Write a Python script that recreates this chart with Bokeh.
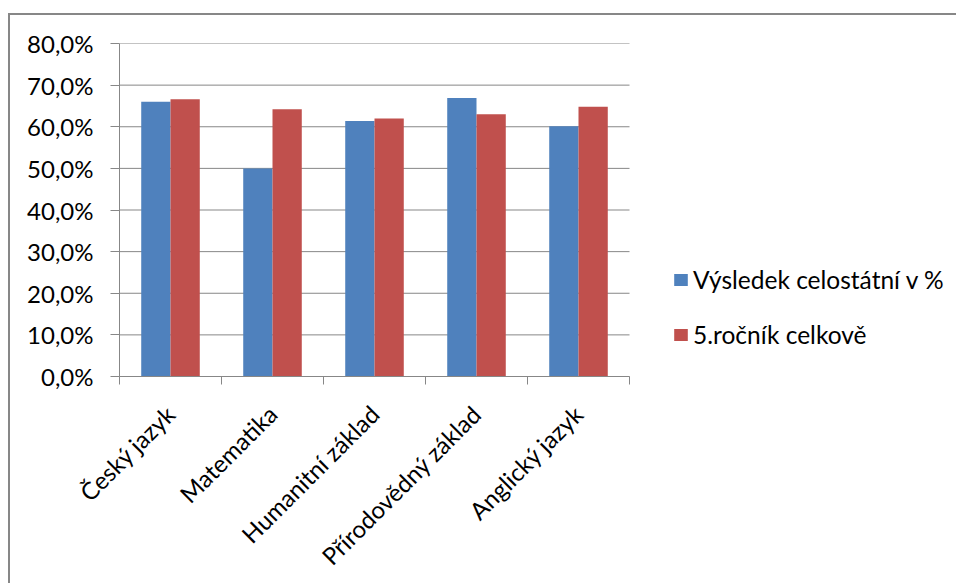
import math
from bokeh.plotting import figure
from bokeh.models import (Range1d, FixedTicker, LinearAxis, Legend, LegendItem,
                          ColumnDataSource)
from bokeh.embed import file_html
from bokeh.resources import INLINE

# ---- data ----
categories = ["Český jazyk", "Matematika", "Humanitní základ", "Přírodovědný základ", "Anglický jazyk"]
celostatni = [66.0, 50.0, 61.4, 66.9, 60.1]
rocnik5 = [66.6, 64.2, 62.0, 63.0, 64.8]
series_names = ["Výsledek celostátní v %", "5.ročník celkově"]
y_ticks = [0, 10, 20, 30, 40, 50, 60, 70, 80]
y_tick_labels = ["0,0%", "10,0%", "20,0%", "30,0%", "40,0%", "50,0%", "60,0%", "70,0%", "80,0%"]

FONT = "Lato"
BLUE = "#4F81BD"
RED = "#C0504D"
GRAY = "#878787"

n = len(categories)
centers = [i + 0.5 for i in range(n)]
bounds = [float(i) for i in range(n + 1)]
bw = 0.287

# layout (pixels): plot area 510 px wide for the categories; frame extended to host the legend
W = 948
H = 570
LEFT = 111
TOP = 30
FRAME_H = 334
CAT_AREA_PX = 510
FRAME_PX = W - LEFT
x_end = n * FRAME_PX / CAT_AREA_PX

src = ColumnDataSource(dict(
    xb=[c - bw / 2 for c in centers],
    xr=[c + bw / 2 for c in centers],
    blue=celostatni,
    red=rocnik5,
))

p = figure(width=W, height=H, output_backend="svg", toolbar_location=None,
           x_range=Range1d(0, x_end), y_range=Range1d(0, 80),
           x_axis_type=None, y_axis_type=None,
           min_border_left=LEFT, min_border_right=0,
           min_border_top=TOP, min_border_bottom=H - TOP - FRAME_H)
p.outline_line_color = None
p.background_fill_alpha = 0
p.border_fill_alpha = 0
p.styles = {"box-shadow": "inset 2px 2px 0 0 #878787",
            "margin-left": "8px", "margin-top": "13px"}

# horizontal gridlines across the category area only
p.segment(x0=[0] * len(y_ticks), x1=[n] * len(y_ticks), y0=y_ticks, y1=y_ticks,
          line_color=GRAY, line_width=1)

rb = p.vbar(x="xb", top="blue", width=bw, bottom=0, source=src, fill_color=BLUE, line_color=None)
rr = p.vbar(x="xr", top="red", width=bw, bottom=0, source=src, fill_color=RED, line_color=None)

yticker = FixedTicker(ticks=y_ticks, minor_ticks=[])
yaxis = LinearAxis(ticker=yticker,
                   major_label_overrides={t: l for t, l in zip(y_ticks, y_tick_labels)})
yaxis.axis_line_color = GRAY
yaxis.major_tick_line_color = GRAY
yaxis.major_tick_out = 9
yaxis.major_tick_in = 0
yaxis.minor_tick_line_color = None
yaxis.major_label_standoff = 17
yaxis.major_label_text_font = FONT
yaxis.major_label_text_font_size = "24px"
yaxis.major_label_text_color = "black"
p.add_layout(yaxis, "left")

xticker = FixedTicker(ticks=centers, minor_ticks=bounds)
xaxis = LinearAxis(ticker=xticker, bounds=(0, n),
                   major_label_overrides={c: cat for c, cat in zip(centers, categories)})
xaxis.axis_line_color = GRAY
xaxis.major_tick_line_color = None
xaxis.major_tick_out = 0
xaxis.major_tick_in = 0
xaxis.minor_tick_line_color = GRAY
xaxis.minor_tick_out = 8
xaxis.minor_tick_in = 0
xaxis.major_label_orientation = math.pi / 4
xaxis.major_label_standoff = 25
xaxis.major_label_text_font = FONT
xaxis.major_label_text_font_size = "24px"
xaxis.major_label_text_color = "black"
p.add_layout(xaxis, "below")

legend = Legend(items=[LegendItem(label=series_names[0], renderers=[rb]),
                       LegendItem(label=series_names[1], renderers=[rr])],
                location=(553, 27))
legend.padding = 0
legend.margin = 0
legend.border_line_color = None
legend.background_fill_alpha = 0
legend.glyph_width = 17
legend.glyph_height = 15
legend.label_height = 15
legend.spacing = 26
legend.label_standoff = 4
legend.label_text_font = FONT
legend.label_text_font_size = "24.5px"
legend.label_text_color = "black"
legend.label_text_baseline = "middle"
p.add_layout(legend, "center")

open("out.html", "w").write(file_html(p, INLINE))
